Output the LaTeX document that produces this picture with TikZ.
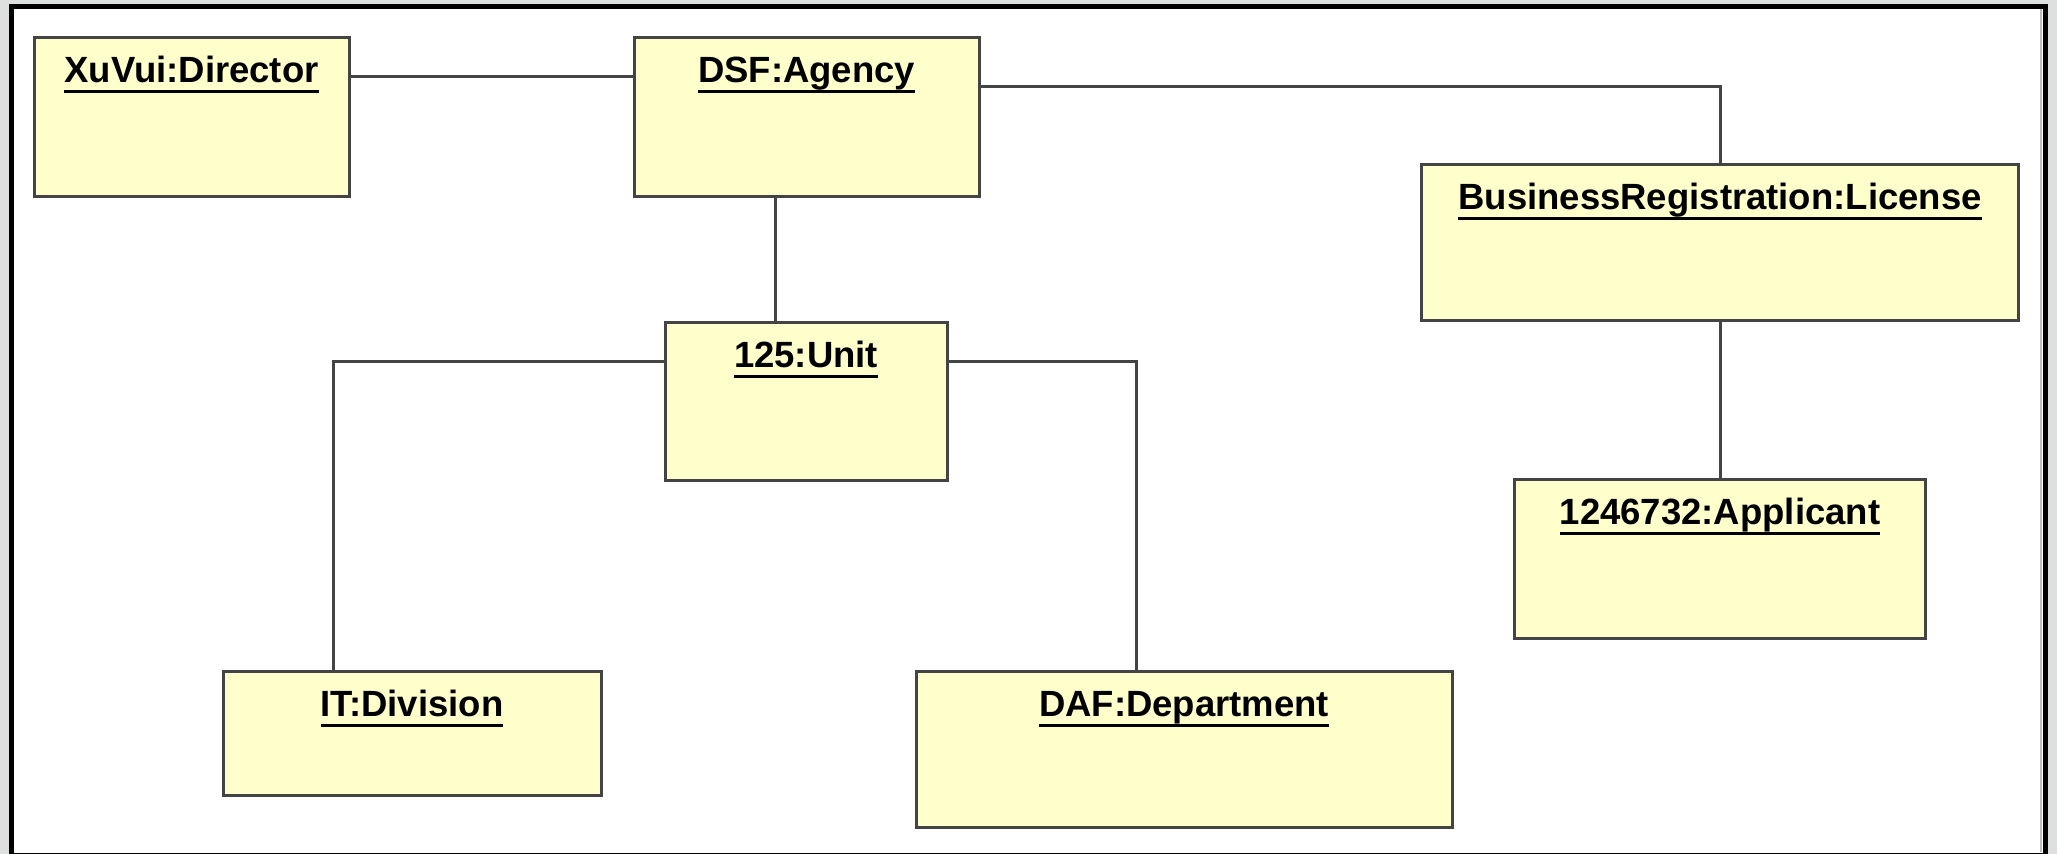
\documentclass[tikz,border=0pt]{standalone}
\usepackage{fontspec}
\setmainfont{Liberation Sans}
\definecolor{bggray}{RGB}{222,223,223}
\definecolor{boxfill}{RGB}{255,255,204}
\definecolor{boxline}{RGB}{68,68,68}
\definecolor{edgegray}{RGB}{190,192,192}
\newcommand\umlobj[6]{%
  \node[obj, minimum width=#4, minimum height=#5] (#1) at (#2,#3) {};
  \node[objlabel] (#1l) at ([yshift=-22.5pt]#1.north) {#6};
  \draw[uline] ([yshift=-4.5pt]#1l.base west) -- ([yshift=-4.5pt]#1l.base east);
}
\begin{document}
\begin{tikzpicture}[x=0.5pt,y=-0.5pt,
  obj/.style={draw=boxline, fill=boxfill, line width=1.5pt, rectangle, inner sep=0pt, outer sep=0pt},
  objlabel/.style={anchor=base, inner sep=0pt, outer sep=0pt, font=\fontsize{18.25pt}{20pt}\selectfont\bfseries},
  uline/.style={line width=1.5pt, black},
  link/.style={draw=boxline, line width=1.5pt}]
\useasboundingbox (0,0) rectangle (2057,854);
\clip (0,0) rectangle (2057,854);
\fill[bggray] (0,0) rectangle (2057,854);
\filldraw[fill=white, draw=black, line width=2.5pt] (11.5,6.5) rectangle (2045.5,856);
\draw[edgegray, line width=1pt] (2040.5,9) -- (2040.5,852);

\umlobj{dir}{191.5}{117.5}{157.5pt}{79.5pt}{XuVui:Director}
\umlobj{agy}{806.5}{117.5}{172.5pt}{79.5pt}{DSF:Agency}
\umlobj{lic}{1720}{243}{298.5pt}{78pt}{BusinessRegistration:License}
\umlobj{unit}{806}{402}{141pt}{79pt}{125:Unit}
\umlobj{app}{1720}{559.5}{205.5pt}{79.5pt}{1246732:Applicant}
\umlobj{div}{412}{734}{189pt}{62pt}{IT:Division}
\umlobj{dep}{1184}{750}{268pt}{78pt}{DAF:Department}

\draw[link] ([yshift=20.25pt]dir.east) -- ([yshift=20.25pt]agy.west);
\draw[link] ([yshift=15.5pt]agy.east) -| (lic.north);
\draw[link] ([xshift=-15.75pt]agy.south) -- ([xshift=-15.5pt]unit.north);
\draw[link] ([yshift=20pt]unit.west) -| ([xshift=-39.5pt]div.north);
\draw[link] ([yshift=20pt]unit.east) -| ([xshift=-24pt]dep.north);
\draw[link] (lic.south) -- (app.north);
\end{tikzpicture}
\end{document}
